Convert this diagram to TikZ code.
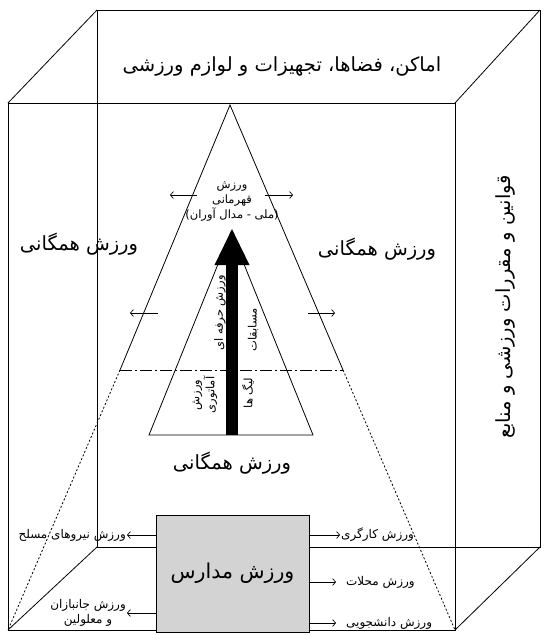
\documentclass[tikz,border=0pt]{standalone}
\usepackage{fontspec}
\usepackage{xcolor}
\usetikzlibrary{positioning,arrows.meta}
\newfontfamily\fafont[Script=Arabic]{DejaVu Sans}
\TeXXeTstate=1
\definecolor{boxgray}{HTML}{D3D3D3}

\begin{document}
\begin{tikzpicture}[x=1pt, y=-1pt,
  edge/.style={line width=0.8pt},
  big/.style={font=\fafont\fontsize{20.5}{24}\selectfont, inner sep=1pt, align=center},
  mid/.style={font=\fafont\fontsize{19.5}{23}\selectfont, inner sep=1pt, align=center},
  small/.style={font=\fafont\fontsize{12}{15}\selectfont, inner sep=1pt, align=center},
  tiny/.style={font=\fafont\fontsize{11.5}{15}\selectfont, inner sep=1pt, align=center},
  arr/.style={-{Straight Barb[length=3pt,width=7pt]}, line width=0.7pt}
]
\useasboundingbox (0,0) rectangle (545,635);
% cube corners
\coordinate (ftl) at (8,103);
\coordinate (ftr) at (455,103);
\coordinate (fbl) at (8,630);
\coordinate (fbr) at (455,630);
\coordinate (btl) at (97,10);
\coordinate (btr) at (540,10);
\coordinate (bbl) at (97,547);
\coordinate (bbr) at (540,547);
\draw[edge] (btl) -- (btr) -- (bbr) -- (bbl) -- cycle;
\draw[edge] (ftl) rectangle (fbr);
\draw[edge] (ftl) -- (btl) (ftr) -- (btr) (fbl) -- (bbl) (fbr) -- (bbr);

% pyramid
\coordinate (apex) at (230,105);
\coordinate (ol) at (120,370);
\coordinate (or) at (343,370);
\coordinate (iapex) at (231,232);
\coordinate (il) at (149,435);
\coordinate (ir) at (313,435);
\draw[edge] (ol) -- (apex) -- (or);
\draw[edge, dash pattern=on 12pt off 3pt on 2pt off 3pt] (ol) -- (or);
\draw[edge, dash pattern=on 2pt off 2pt] (ol) -- (fbl) (or) -- (fbr);
\draw[edge] (il) -- (iapex) -- (ir) -- cycle;
\draw[line width=12pt, -{Triangle[length=37pt,width=32pt]}] (232,435) -- (232,228);

% spreading arrows
\draw[arr] (197,195) -- (170,195);
\draw[arr] (265,195) -- (293,195);
\draw[arr] (158,313) -- (130,313);
\draw[arr] (308,313) -- (335,313);

% labels
\node[mid] (tops) at (282,66) {\beginR اماکن، فضاها، تجهیزات و لوازم ورزشی\endR};
\node[mid, rotate=90] (laws) at (505,307) {\beginR قوانین و مقررات ورزشی و منابع\endR};
\node[mid] (publ) at (79,244) {\beginR ورزش همگانی\endR};
\node[mid] (pubr) at (377,249) {\beginR ورزش همگانی\endR};
\node[mid] (pubb) at (232,463) {\beginR ورزش همگانی\endR};
\node[tiny] (champ) at (232,202) {\beginR ورزش\endR\\\beginR قهرمانی\endR\\\beginR (ملی - مدال آوران)\endR};
\node[tiny, rotate=90] (pro) at (220,313) {\beginR ورزش حرفه ای\endR};
\node[tiny, rotate=90] (comp) at (253,330) {\beginR مسابقات\endR};
\node[tiny, rotate=90] (amat) at (205,395) {\beginR ورزش\endR\\\beginR آماتوری\endR};
\node[tiny, rotate=90] (league) at (248,393) {\beginR لیگ ها\endR};

% schools
\node[draw, edge, fill=boxgray, minimum width=153pt, minimum height=117pt, big] (madares) at (232.5,573.5) {\beginR ورزش مدارس\endR};
\node[small, anchor=east] (nirou) at (127,535) {\beginR ورزش نیروهای مسلح\endR};
\node[small, anchor=east] (janbaz) at (127,613) {\beginR ورزش جانبازان\endR\\\beginR و معلولین\endR};
\node[small, anchor=west] (kargar) at (340,535) {\beginR ورزش کارگری\endR};
\node[small, anchor=west] (mahal) at (345,582) {\beginR ورزش محلات\endR};
\node[small, anchor=west] (daneshju) at (345,623) {\beginR ورزش دانشجویی\endR};
\draw[arr] (madares.west |- nirou.east) -- (nirou.east);
\draw[arr] (madares.west |- janbaz.east) -- (janbaz.east);
\draw[arr] (madares.east |- kargar.west) -- (kargar.west);
\draw[arr, shorten >=9pt] (madares.east |- mahal.west) -- (mahal.west);
\draw[arr, shorten >=9pt] (madares.east |- daneshju.west) -- (daneshju.west);
\end{tikzpicture}
\end{document}
